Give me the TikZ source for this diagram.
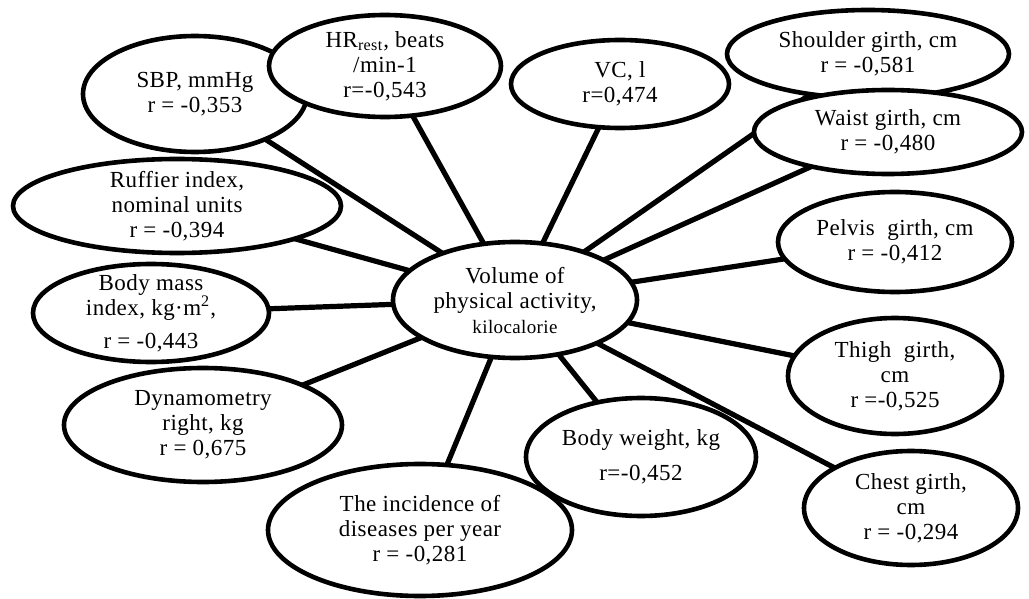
\documentclass[tikz,border=0pt]{standalone}
\usepackage{fontspec}
\setmainfont{Liberation Serif}[LetterSpace=2]
\usetikzlibrary{shapes.geometric,backgrounds}
\newcommand\bubfont{\fontsize{11.5}{12.5}\selectfont}
\tikzset{
  bub/.style={ellipse, draw, line width=2.3pt, fill=white, inner sep=-3pt, align=center, font=\bubfont},
  link/.style={line width=2.6pt}
}
\begin{document}
\begin{tikzpicture}[x=0.5pt,y=-0.5pt]
\useasboundingbox (0,0) rectangle (1029,599);
\node[bub, minimum width=122pt, minimum height=58pt] (c) at (515,300)
  {Volume of\\physical activity,\\{\fontsize{9.5}{11}\selectfont kilocalorie}};
\node[bub, minimum width=112pt, minimum height=58pt] (sbp) at (195,94) {SBP, mmHg\\r = -0,353};
\node[bub, minimum width=116pt, minimum height=51pt] (hr) at (385,66) {HR\textsubscript{rest}, beats\\/min-1\\r=-0,543};
\node[bub, minimum width=109pt, minimum height=44pt] (vc) at (620,84) {VC, l\\r=0,474};
\node[bub, minimum width=141pt, minimum height=44pt] (sh) at (868,54) {Shoulder girth, cm\\r = -0,581};
\node[bub, minimum width=134pt, minimum height=42pt] (wa) at (888,132) {Waist girth, cm\\r = -0,480};
\node[bub, minimum width=117pt, minimum height=50pt] (pe) at (895,242) {Pelvis\ \ girth, cm\\r = -0,412};
\node[bub, minimum width=107pt, minimum height=58pt] (th) at (895,376) {Thigh\ \ girth,\\cm\\r =-0,525};
\node[bub, minimum width=107pt, minimum height=57pt] (ch) at (911,508) {Chest girth,\\cm\\r = -0,294};
\node[bub, minimum width=115pt, minimum height=59pt] (bw) at (641,457) {Body weight, kg\\[5pt]r=-0,452};
\node[bub, minimum width=152pt, minimum height=66pt] (inc) at (420,530) {The incidence of\\diseases per year\\r = -0,281};
\node[bub, minimum width=164pt, minimum height=47pt] (ru) at (177,206) {Ruffier index,\\nominal units\\r = -0,394};
\node[bub, minimum width=118pt, minimum height=49pt] (bmi) at (151,313) {Body mass\\index, kg·m\textsuperscript{2},\\[4pt]r = -0,443};
\node[bub, minimum width=139pt, minimum height=57pt] (dy) at (203,425) {Dynamometry\\right, kg\\r = 0,675};
\begin{scope}[on background layer]
  \foreach \n in {sbp,hr,vc,sh,wa,pe,th,ch,bw,inc,ru,bmi,dy}
    \draw[link] (c.center) -- (\n.center);
\end{scope}
\end{tikzpicture}
\end{document}
